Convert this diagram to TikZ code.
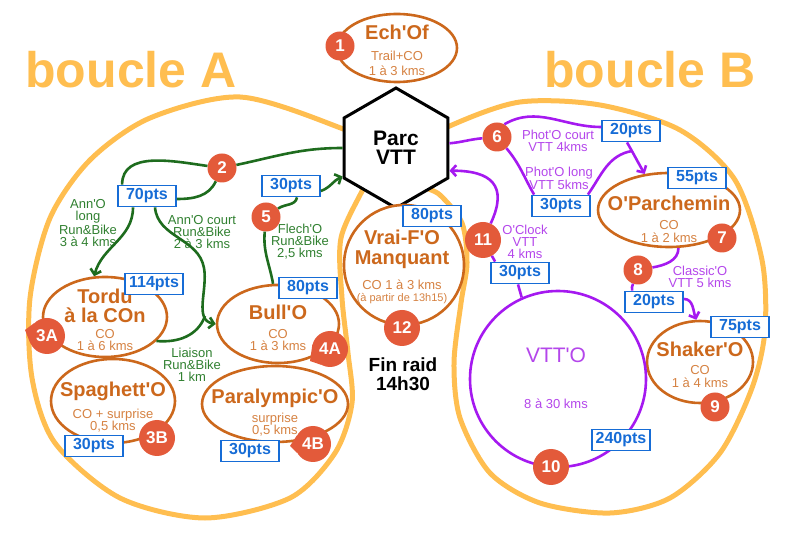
\documentclass[tikz,border=0pt]{standalone}
\usepackage{fontspec}
\setmainfont{Liberation Sans}[Ligatures=TeXOff]
\usetikzlibrary{arrows.meta}
\usetikzlibrary{shapes.geometric}

\definecolor{loopyellow}{RGB}{255,190,80}
\definecolor{spotbrown}{RGB}{204,104,28}
\definecolor{spotlight}{RGB}{214,130,66}
\definecolor{badgered}{RGB}{227,90,58}
\definecolor{ptsblue}{RGB}{22,108,214}
\definecolor{bikegreen}{RGB}{30,108,30}
\definecolor{biketext}{RGB}{48,128,48}
\definecolor{vttviolet}{RGB}{165,25,240}
\definecolor{vtttext}{RGB}{180,70,235}

\newcommand\spotfont{\fontsize{20}{18}\selectfont\bfseries}
\newcommand\infofont{\fontsize{13}{12}\selectfont}
\newcommand\spotinfo{\color{spotlight}\mdseries\infofont}

\begin{document}
\begin{tikzpicture}[
  x=1pt, y=1pt,
  > = {Straight Barb[length=5pt,width=11pt]},
  boucle/.style = {draw=loopyellow, line width=5pt},
  title/.style = {text=loopyellow, font=\bfseries\fontsize{50}{50}\selectfont},
  hexa/.style = {regular polygon, regular polygon sides=6, shape border rotate=90,
    minimum size=120pt, draw, line width=3pt, fill=white, inner sep=0pt,
    align=center, font=\bfseries\fontsize{21}{19}\selectfont},
  spot/.style = {ellipse, draw=spotbrown, line width=2.6pt, fill=white, inner sep=0pt},
  spotname/.style = {text=spotbrown, align=center, font=\spotfont},
  badge/.style = {circle, fill=badgered, text=white, inner sep=0pt, minimum size=29pt,
    font=\bfseries\fontsize{17}{17}\selectfont},
  bigbadge/.style = {badge, minimum size=36pt},
  pts/.style = {draw=ptsblue, line width=1.8pt, fill=white, text=ptsblue, inner sep=0pt,
    minimum width=58pt, minimum height=21pt, font=\bfseries\fontsize{16}{16}\selectfont},
  bike/.style = {text=biketext, align=center, font=\infofont},
  vtt/.style = {text=vtttext, align=center, font=\infofont},
  bikeline/.style = {draw=bikegreen, line width=2.6pt},
  vttline/.style = {draw=vttviolet, line width=2.6pt}
  ]
  \useasboundingbox (0,0) rectangle (800,538);

  \draw[boucle] plot[smooth cycle] coordinates {(380,388) (338,411) (240,441) (150,420)
    (90,378) (50,320) (30,240) (32,160) (55,95) (120,40) (205,20) (290,40) (335,85)
    (352,135) (348,185) (342,240) (341,300) (365,353)};
  \draw[boucle] plot[smooth cycle] coordinates {(410,388) (452,413) (520,436) (600,433)
    (680,408) (735,358) (762,278) (765,208) (752,150) (720,85) (670,40) (610,25)
    (540,35) (490,65) (460,120) (454,175) (461,235) (467,275) (462,315) (440,343) (420,355)};

  \node[title] (titleA) at (131,468) {boucle A};
  \node[title] (titleB) at (650,468) {boucle B};

  \node[hexa] (hex) at (396,390) {Parc\\VTT};

  \node[spot, minimum width=120pt, minimum height=68pt] (echof) at (397,490) {};
  \node[spot, minimum width=124pt, minimum height=84pt] (spag) at (113,137) {};
  \node[spot, minimum width=124pt, minimum height=80pt] (tordu) at (105,221) {};
  \node[spot, minimum width=146pt, minimum height=76pt] (para) at (275,134) {};
  \node[spot, minimum width=122pt, minimum height=78pt] (bull) at (278,214) {};
  \node[spot, circle, minimum size=120pt] (vrai) at (404,273) {};
  \node[spot, minimum width=142pt, minimum height=74pt] (parch) at (669,328) {};
  \node[spot, minimum width=106pt, minimum height=82pt] (shaker) at (700,176) {};
  \node[circle, draw=vttviolet, line width=2.6pt, fill=white, minimum size=176pt] (vtto) at (558,159) {};

  \node[spotname] (echoftxt) at (397,488) {Ech'Of\\[3pt]\spotinfo Trail+CO\\[-3pt]\spotinfo 1 à 3 kms};
  \node[spotname] (tordutxt) at (105,218) {Tordu\\[1pt]à la COn\\[-2pt]\spotinfo CO\\[-6pt]\spotinfo 1 à 6 kms};
  \node[spotname] (spagtxt) at (113,131) {Spaghett'O\\[4pt]\spotinfo CO + surprise\\[-6pt]\spotinfo 0,5 kms};
  \node[spotname] (bulltxt) at (278,210) {Bull'O\\[1pt]\spotinfo CO\\[-6pt]\spotinfo 1 à 3 kms};
  \node[spotname] (paratxt) at (275,125) {Paralympic'O\\[1pt]\spotinfo surprise\\[-6pt]\spotinfo 0,5 kms};
  \node[spotname] (vraitxt) at (402,271) {Vrai-F'O\\[2pt]Manquant\\[7pt]\spotinfo CO 1 à 3 kms\\[-6pt]\spotinfo\fontsize{11}{11}\selectfont(à partir de 13h15)};
  \node[spotname] (parchtxt) at (669,319) {O'Parchemin\\[1pt]\spotinfo CO\\[-5pt]\spotinfo 1 à 2 kms};
  \node[spotname] (shakertxt) at (700,173) {Shaker'O\\\spotinfo CO\\[-5pt]\spotinfo 1 à 4 kms};
  \node[text=vtttext, align=center, font=\fontsize{21}{18}\selectfont] (vttotxt) at (556,160) {VTT'O\\[28pt]\infofont 8 à 30 kms};
  \node[align=center, font=\bfseries\fontsize{19}{19}\selectfont] (finraid) at (403,164) {Fin raid\\14h30};

  \node[bike] (annlong) at (88,315) {Ann'O\\long\\Run\&Bike\\3 à 4 kms};
  \node[bike] (anncourt) at (202,306) {Ann'O court\\Run\&Bike\\2 à 3 kms};
  \node[bike] (flech) at (300,296) {Flech'O\\Run\&Bike\\2,5 kms};
  \node[bike] (liaison) at (192,173) {Liaison\\Run\&Bike\\1 km};
  \node[vtt] (photcourt) at (558,397) {Phot'O court\\VTT 4kms};
  \node[vtt] (photlong) at (559,360) {Phot'O long\\VTT 5kms};
  \node[vtt] (oclock) at (525,296) {O'Clock\\VTT\\4 kms};
  \node[vtt] (classic) at (700,261) {Classic'O\\VTT 5 kms};

  \node[pts] (p70) at (147,342) {70pts};
  \node[pts] (p114) at (154,254) {114pts};
  \node[pts] (p30a) at (291,352) {30pts};
  \node[pts] (p80a) at (308,250) {80pts};
  \node[pts] (p80b) at (432,322) {80pts};
  \node[pts] (p30b) at (94,92) {30pts};
  \node[pts] (p30c) at (250,87) {30pts};
  \node[pts] (p20a) at (631,407) {20pts};
  \node[pts] (p30d) at (561,332) {30pts};
  \node[pts] (p55) at (697,360) {55pts};
  \node[pts] (p30e) at (520,265) {30pts};
  \node[pts] (p20b) at (654,236) {20pts};
  \node[pts] (p75) at (740,211) {75pts};
  \node[pts] (p240) at (621,98) {240pts};

  \node[badge] (b1) at (340,492) {1};
  \node[badge] (b2) at (222,370) {2};
  \node[bigbadge] (b3a) at (47,202) {3A};
  \node[bigbadge] (b3b) at (157,100) {3B};
  \node[bigbadge] (b4a) at (330,189) {4A};
  \node[bigbadge] (b4b) at (313,94) {4B};
  \node[badge] (b5) at (266,321) {5};
  \node[badge] (b6) at (497,401) {6};
  \node[badge] (b7) at (722,300) {7};
  \node[badge] (b8) at (638,268) {8};
  \node[badge] (b9) at (715,131) {9};
  \node[bigbadge] (b10) at (551,71) {10};
  \node[bigbadge] (b11) at (483,298) {11};
  \node[bigbadge] (b12) at (402,210) {12};

  \fill[badgered] (b3a.135) -- (25,208) -- (b3a.205) -- cycle;
  \fill[badgered] (b4a.165) -- (310,177) -- (b4a.240) -- cycle;
  \fill[badgered] (b4b.150) -- (290,92) -- (b4b.210) -- cycle;

  \coordinate (wiggle) at (204,270);
  \coordinate (merge) at (205,222);
  \coordinate (join) at (632,387);

  \draw[bikeline] (b2) to[out=12,in=180] (hex.180);
  \draw[bikeline] (b2) to[out=172,in=90] ([xshift=5pt]p70.north west);
  \draw[bikeline] (b2) to[out=245,in=0] ([yshift=-3pt]p70.east);
  \draw[bikeline,->] ([xshift=-14pt]p70.south) to[out=270,in=75] (tordu.105);
  \draw[bikeline,->] ([xshift=8pt]p70.south) to[out=275,in=100] (wiggle)
    to[out=280,in=170] (bull.west);
  \draw[bikeline] (tordu.-25) to[out=-5,in=250] (merge);
  \draw[bikeline] (bull.97) to[out=100,in=265] (b5);
  \draw[bikeline] (b5) to[out=35,in=260] ([xshift=6pt]p30a.south);
  \draw[bikeline,->] ([yshift=-5pt]p30a.east) to[out=20,in=205] (hex.208);

  \draw[vttline] (hex.5) to[out=5,in=185] (b6);
  \draw[vttline] (b6.60) to[out=30,in=180] ([yshift=4pt]p20a.west);
  \draw[vttline,->] ([xshift=-4pt]p20a.south) to[out=-60,in=120] (parch.124);
  \draw[vttline] (b6) to[out=-50,in=120] ([xshift=3pt]p30d.north west);
  \draw[vttline] ([xshift=-3pt]p30d.north east) to[out=55,in=190] (join);
  \draw[vttline,->] (b11) to[out=65,in=0,looseness=1.6] (hex.-23);
  \draw[vttline] (b11) -- ([xshift=5pt]p30e.north west);
  \draw[vttline] ([xshift=-2pt]p30e.south) -- (vtto.114);
  \draw[vttline] (parch.-76) to[out=-90,in=10] (b8);
  \draw[vttline] (b8) to[out=-110,in=100] ([xshift=8pt]p20b.north west);
  \draw[vttline,->] ([yshift=3pt]p20b.east) to[out=0,in=110] (shaker.95);
\end{tikzpicture}
\end{document}
